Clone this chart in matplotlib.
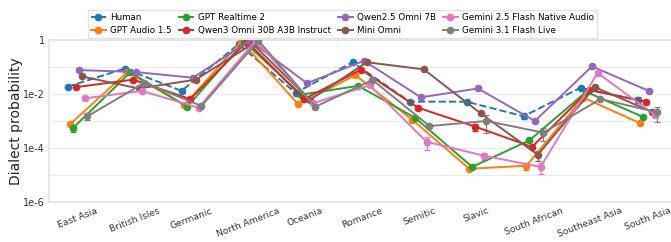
import matplotlib
matplotlib.use('Agg')
import matplotlib.pyplot as plt
import numpy as np

# regions on the x axis
regions = ['East Asia', 'British Isles', 'Germanic', 'North America', 'Oceania',
           'Romance', 'Semitic', 'Slavic', 'South African', 'Southeast Asia', 'South Asia']

# dialect probability per model
human = [0.0186, 0.087, 0.013, 0.70, 0.011, 0.15, 0.0052, 0.0052, 0.0015, 0.017, 0.006]
gpt_audio = [7.8e-4, 0.065, 0.0039, 0.90, 0.0041, 0.05, 0.0011, 1.7e-5, 2.2e-5, 0.0073, 8.2e-4]
gpt_realtime = [5.6e-4, 0.063, 0.0034, 0.85, 0.0095, 0.02, 0.0013, 2.0e-5, 1.9e-4, 0.012, 0.0014]
qwen3 = [0.018, 0.034, 0.0065, 0.87, 0.0065, 0.08, 0.0031, 6.2e-4, 1.1e-4, 0.014, 0.0052]
qwen25 = [0.077, 0.065, 0.04, 0.95, 0.025, 0.17, 0.0075, 0.016, 0.001, 0.105, 0.013]
mini_omni = [0.045, 0.016, 0.034, 0.72, 0.006, 0.15, 0.082, 0.0019, 5.6e-5, 0.018, 0.0022]
gemini25 = [0.0069, 0.013, 0.0031, 0.95, 0.0045, 0.021, 1.7e-4, 5.2e-5, 2.0e-5, 0.06, 0.0017]
gemini31 = [0.0015, 0.026, 0.0036, 0.95, 0.0034, 0.033, 6.5e-4, 0.001, 3.7e-4, 0.0065, 0.0021]

# relative error bar half-widths
err_human = [0.05, 0.05, 0.05, 0.02, 0.05, 0.05, 0.05, 0.05, 0.22, 0.05, 0.25]
err_gpt_audio = [0.1, 0.05, 0.05, 0.02, 0.05, 0.05, 0.05, 0.1, 0.3, 0.05, 0.05]
err_gpt_realtime = [0.3, 0.05, 0.05, 0.02, 0.05, 0.05, 0.1, 0.15, 0.1, 0.05, 0.05]
err_qwen3 = [0.05, 0.05, 0.05, 0.02, 0.05, 0.05, 0.1, 0.3, 0.1, 0.05, 0.05]
err_qwen25 = [0.05, 0.05, 0.05, 0.02, 0.05, 0.05, 0.05, 0.05, 0.05, 0.05, 0.05]
err_mini_omni = [0.05, 0.05, 0.05, 0.02, 0.05, 0.05, 0.05, 0.1, 0.4, 0.05, 0.1]
err_gemini25 = [0.1, 0.05, 0.05, 0.02, 0.05, 0.05, 0.5, 0.3, 0.45, 0.05, 0.2]
err_gemini31 = [0.3, 0.05, 0.05, 0.02, 0.05, 0.05, 0.15, 0.65, 0.5, 0.05, 0.55]

models = ['Human', 'GPT Audio 1.5', 'GPT Realtime 2', 'Qwen3 Omni 30B A3B Instruct',
          'Qwen2.5 Omni 7B', 'Mini Omni', 'Gemini 2.5 Flash Native Audio', 'Gemini 3.1 Flash Live']
values = [human, gpt_audio, gpt_realtime, qwen3, qwen25, mini_omni, gemini25, gemini31]
errors = [err_human, err_gpt_audio, err_gpt_realtime, err_qwen3, err_qwen25,
          err_mini_omni, err_gemini25, err_gemini31]
colors = ['#1f77b4', '#ff7f0e', '#2ca02c', '#d62728', '#9467bd', '#8c564b', '#e377c2', '#7f7f7f']

fig = plt.figure(figsize=(6.71, 2.42), dpi=100)
ax = fig.add_axes([49 / 671, 40 / 242, 627 / 671, 162 / 242])

x = np.arange(len(regions))
step = 0.05
handles = []
for i, (name, v, e, c) in enumerate(zip(models, values, errors, colors)):
    v = np.array(v)
    err = np.array(e) * v
    xs = x + (i - 3.5) * step
    ls = '--' if name == 'Human' else '-'
    cont = ax.errorbar(xs, v, yerr=err, color=c, ls=ls, lw=1.4, marker='o', ms=4.5,
                       elinewidth=0.9, capsize=2.5, capthick=0.9, ecolor=c, zorder=3)
    line = cont[0]
    line.set_label(name)
    handles.append(line)

ax.set_yscale('log')
ax.set_ylim(1e-6, 1)
ax.set_xlim(-0.5, 10.5)
ax.set_yticks([1, 1e-2, 1e-4, 1e-6])
ax.set_yticklabels(['1', '1e-2', '1e-4', '1e-6'])
ax.set_yticks([1e-1, 1e-3, 1e-5], minor=True)
ax.yaxis.set_minor_formatter(plt.NullFormatter())
ax.grid(True, which='both', axis='y', color='#ebebeb', lw=0.9, zorder=0)
ax.set_axisbelow(True)
ax.set_xticks(x)
ax.set_xticklabels(regions, rotation=21, ha='center', fontsize=6.6, color='#333333')
ax.tick_params(axis='y', labelsize=7, colors='#333333')
ax.tick_params(which='both', length=0, pad=3)
ax.set_ylabel('Dialect probability', fontsize=10, color='#222222', labelpad=0)
for s in ax.spines.values():
    s.set_color('#e3e3e3')
    s.set_linewidth(1.2)

fig.legend(handles=handles, loc='lower left', bbox_to_anchor=(88 / 671, (242 - 38) / 242),
           ncol=4, fontsize=6.3, frameon=True, edgecolor='#dddddd', fancybox=False,
           handlelength=1.7, columnspacing=0.8, handletextpad=0.5, borderpad=0.3,
           labelspacing=0.5, borderaxespad=0)

fig.savefig('out.png', dpi=100)
